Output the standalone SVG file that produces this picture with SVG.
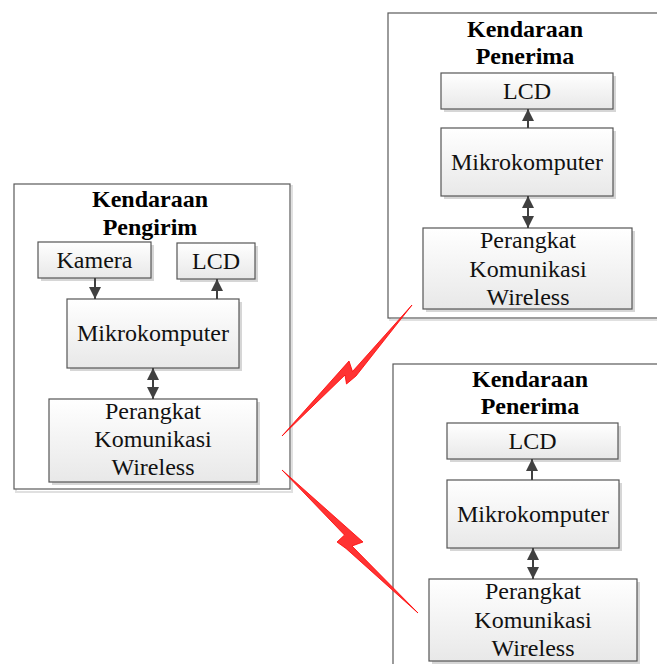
<svg xmlns="http://www.w3.org/2000/svg" width="657" height="664" viewBox="0 0 657 664">
<defs>
<linearGradient id="gb" x1="0" y1="0" x2="0" y2="1">
<stop offset="0" stop-color="#ffffff"/>
<stop offset="1" stop-color="#e8e8e8"/>
</linearGradient>
<marker id="ah" viewBox="0 0 10 10" refX="10" refY="5" markerWidth="12" markerHeight="12" markerUnits="userSpaceOnUse" orient="auto-start-reverse">
<path d="M0,0 L10,5 L0,10 z" fill="#404040"/>
</marker>
</defs>
<style>
.cont{fill:#ffffff;stroke:#5a5a5a;stroke-width:1.2}
.csh{fill:none;stroke:#e0e0e0;stroke-width:2}
.box{fill:url(#gb);stroke:#555555;stroke-width:1.2}
.sh{fill:#d6d6d6}
.t{font-family:"Liberation Serif","Times New Roman",serif;font-size:24px;fill:#111;text-anchor:middle}
.h{font-family:"Liberation Serif","Times New Roman",serif;font-size:24px;font-weight:bold;fill:#000;text-anchor:middle}
.ar{stroke:#404040;stroke-width:2;fill:none}
.bolt{fill:#ff3333;stroke:#ff0000;stroke-width:0.8;stroke-linejoin:miter}
</style>
<rect width="657" height="664" fill="#ffffff"/>

<g id="container-pengirim">
<rect class="csh" x="16" y="186" width="276" height="306"/>
<rect class="cont" x="14" y="184" width="276" height="305"/>
<text class="h" x="150" y="207">Kendaraan</text>
<text class="h" x="150" y="235">Pengirim</text>
</g>
<g id="container-penerima1">
<rect class="csh" x="390" y="15" width="280" height="305"/>
<rect class="cont" x="388" y="13" width="280" height="305"/>
<text class="h" x="525" y="37">Kendaraan</text>
<text class="h" x="525" y="64">Penerima</text>
</g>
<g id="container-penerima2">
<rect class="csh" x="395" y="366" width="280" height="320"/>
<rect class="cont" x="393" y="364" width="280" height="320"/>
<text class="h" x="530" y="387">Kendaraan</text>
<text class="h" x="530" y="414">Penerima</text>
</g>

<g id="kamera">
<rect class="sh" x="41" y="245" width="113" height="36"/>
<rect class="box" x="38" y="242" width="113" height="36"/>
<text class="t" x="94.5" y="268">Kamera</text>
</g>
<g id="lcd-pengirim">
<rect class="sh" x="180" y="246" width="78" height="36"/>
<rect class="box" x="177" y="243" width="78" height="36"/>
<text class="t" x="216" y="269">LCD</text>
</g>
<g id="mikro-pengirim">
<rect class="sh" x="70" y="302" width="172" height="69"/>
<rect class="box" x="67" y="299" width="172" height="69"/>
<text class="t" x="153" y="341">Mikrokomputer</text>
</g>
<g id="wireless-pengirim">
<rect class="sh" x="52" y="402" width="208" height="83"/>
<rect class="box" x="49" y="399" width="208" height="83"/>
<text class="t" x="153" y="419">Perangkat</text>
<text class="t" x="153" y="447">Komunikasi</text>
<text class="t" x="153" y="475">Wireless</text>
</g>

<g id="lcd-penerima1">
<rect class="sh" x="444" y="76" width="172" height="36"/>
<rect class="box" x="441" y="73" width="172" height="36"/>
<text class="t" x="527" y="99">LCD</text>
</g>
<g id="mikro-penerima1">
<rect class="sh" x="444" y="131" width="172" height="68"/>
<rect class="box" x="441" y="128" width="172" height="68"/>
<text class="t" x="527" y="170">Mikrokomputer</text>
</g>
<g id="wireless-penerima1">
<rect class="sh" x="426" y="231" width="209" height="81"/>
<rect class="box" x="423" y="228" width="209" height="81"/>
<text class="t" x="528" y="248">Perangkat</text>
<text class="t" x="528" y="277">Komunikasi</text>
<text class="t" x="528" y="305">Wireless</text>
</g>

<g id="lcd-penerima2">
<rect class="sh" x="450" y="426" width="171" height="36"/>
<rect class="box" x="447" y="423" width="171" height="36"/>
<text class="t" x="532.5" y="449">LCD</text>
</g>
<g id="mikro-penerima2">
<rect class="sh" x="450" y="483" width="172" height="68"/>
<rect class="box" x="447" y="480" width="172" height="68"/>
<text class="t" x="533" y="522">Mikrokomputer</text>
</g>
<g id="wireless-penerima2">
<rect class="sh" x="432" y="582" width="208" height="82"/>
<rect class="box" x="429" y="579" width="208" height="82"/>
<text class="t" x="533" y="599">Perangkat</text>
<text class="t" x="533" y="628">Komunikasi</text>
<text class="t" x="533" y="656">Wireless</text>
</g>

<g id="connectors">
<line class="ar" x1="95" y1="278" x2="95" y2="299" marker-end="url(#ah)"/>
<line class="ar" x1="217" y1="299" x2="217" y2="279" marker-end="url(#ah)"/>
<line class="ar" x1="153" y1="368" x2="153" y2="399" marker-start="url(#ah)" marker-end="url(#ah)"/>
<line class="ar" x1="528" y1="128" x2="528" y2="109" marker-end="url(#ah)"/>
<line class="ar" x1="528" y1="196" x2="528" y2="228" marker-start="url(#ah)" marker-end="url(#ah)"/>
<line class="ar" x1="532" y1="480" x2="532" y2="459" marker-end="url(#ah)"/>
<line class="ar" x1="533" y1="548" x2="533" y2="579" marker-start="url(#ah)" marker-end="url(#ah)"/>
<polygon class="bolt" points="282,436 349,361 352.5,371.5 412,305 356,376 346.5,384 345,375"/>
<polygon class="bolt" points="282,470 363,542 352,546 418,613 346,548.5 337,542 344.5,535"/>
</g>
</svg>
